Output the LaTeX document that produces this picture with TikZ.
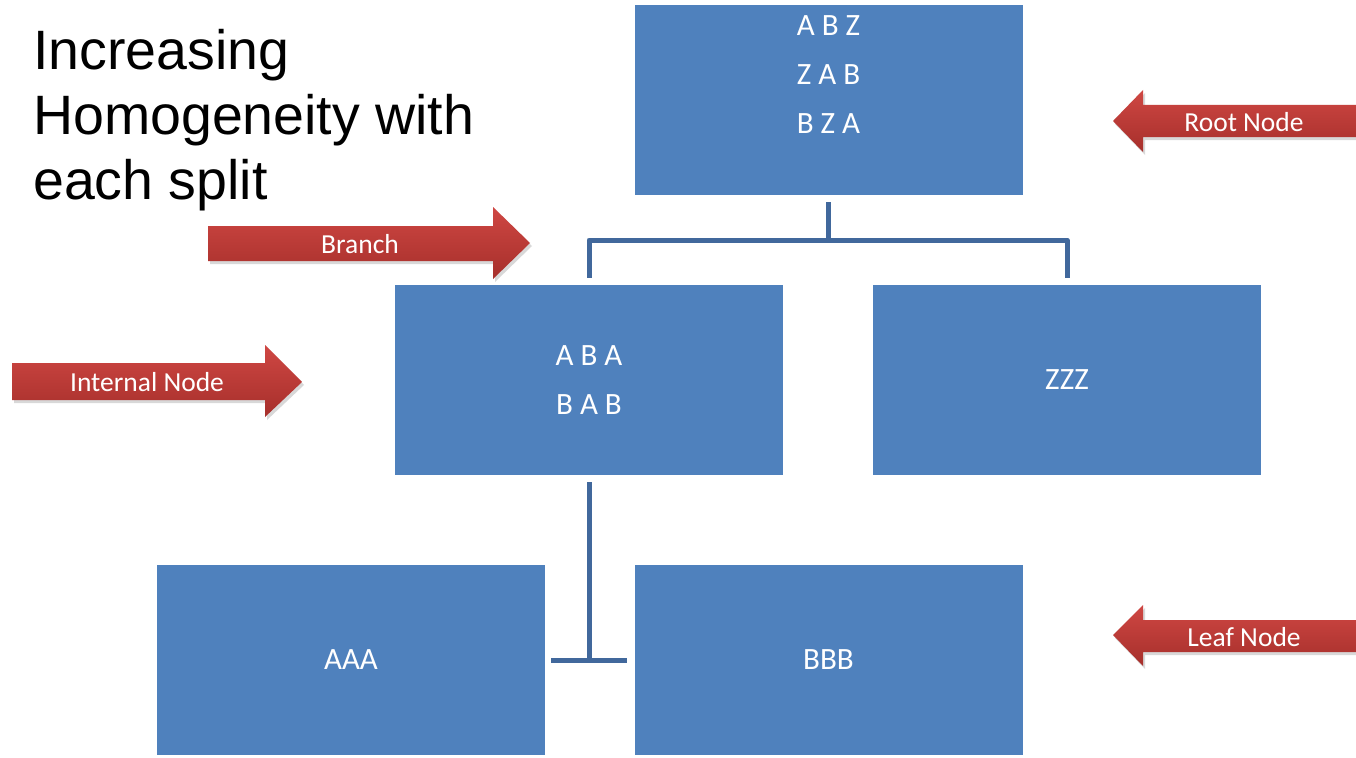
\documentclass[tikz,border=0pt]{standalone}
\usepackage{fontspec}
\setmainfont{Liberation Sans}
\newfontfamily\calib{Carlito}
\usetikzlibrary{shadows}
\definecolor{boxblue}{HTML}{4F81BD}
\definecolor{connblue}{HTML}{41689C}
\definecolor{redtop}{HTML}{CF4743}
\definecolor{redbot}{HTML}{A62F2B}
\tikzset{
  box/.style={fill=boxblue, draw=none, minimum width=388pt, minimum height=190pt, inner sep=0pt,
    text=white, font=\calib\fontsize{31}{49}\selectfont, align=center},
  boxtxt/.style={text=white, font=\calib\fontsize{31}{49}\selectfont, align=center, inner sep=0pt},
  conn/.style={draw=connblue, line width=5pt, line join=round},
  redarrow/.style={top color=redtop, bottom color=redbot, draw=none,
    drop shadow={opacity=0.3, shadow xshift=2pt, shadow yshift=-3pt}},
  arrowlbl/.style={text=white, font=\calib\fontsize{27.5}{33}\selectfont, inner sep=0pt},
  title/.style={font=\fontsize{55.5}{65}\selectfont, align=left, inner sep=0pt, anchor=north west}
}
\begin{document}
\begin{tikzpicture}[x=1pt,y=-1pt]
\useasboundingbox (0,0) rectangle (1356,757);
\fill[white] (0,0) rectangle (1356,757);

% title
\node[title] (ttl) at (33,29) {Increasing\\Homogeneity with\\each split};

% boxes
\node[box, label={[boxtxt, yshift=25pt]center:{A B Z\\Z A B\\B Z A}}] (root) at (828.5,100) {};
\node[box] (inner) at (589,380) {A B A\\B A B};
\node[box] (zzz) at (1067,380) {ZZZ};
\node[box] (aaa) at (351,660) {AAA};
\node[box] (bbb) at (828.5,660) {BBB};

% connectors
\coordinate (bj) at (828.5,240);
\draw[conn] ([yshift=-7pt]root.south) -- (bj);
\draw[conn] ([yshift=7pt]inner.north) |- (bj) -| ([yshift=7pt]zzz.north);
\coordinate (lj) at (589,660);
\draw[conn] ([yshift=-7pt]inner.south) -- (lj);
\draw[conn] ([xshift=6pt]aaa.east) -- ([xshift=-7pt]bbb.west);

% red arrows
\path[redarrow] (208,226) -- (493,226) -- (493,207) -- (530,243) -- (493,279) -- (493,261) -- (208,261) -- cycle;
\node[arrowlbl] (branchlbl) at (360,244) {Branch};

\path[redarrow] (12,363) -- (265,363) -- (265,345) -- (302,382) -- (265,417) -- (265,400) -- (12,400) -- cycle;
\node[arrowlbl] (internallbl) at (147,382) {Internal Node};

\path[redarrow] (1360,105) -- (1143,105) -- (1143,90) -- (1113,121) -- (1143,152) -- (1143,137) -- (1360,137) -- cycle;
\node[arrowlbl] (rootlbl) at (1244,122) {Root Node};

\path[redarrow] (1360,620) -- (1143,620) -- (1143,605) -- (1113,635) -- (1143,666) -- (1143,652) -- (1360,652) -- cycle;
\node[arrowlbl] (leaflbl) at (1244,637) {Leaf Node};
\end{tikzpicture}
\end{document}
